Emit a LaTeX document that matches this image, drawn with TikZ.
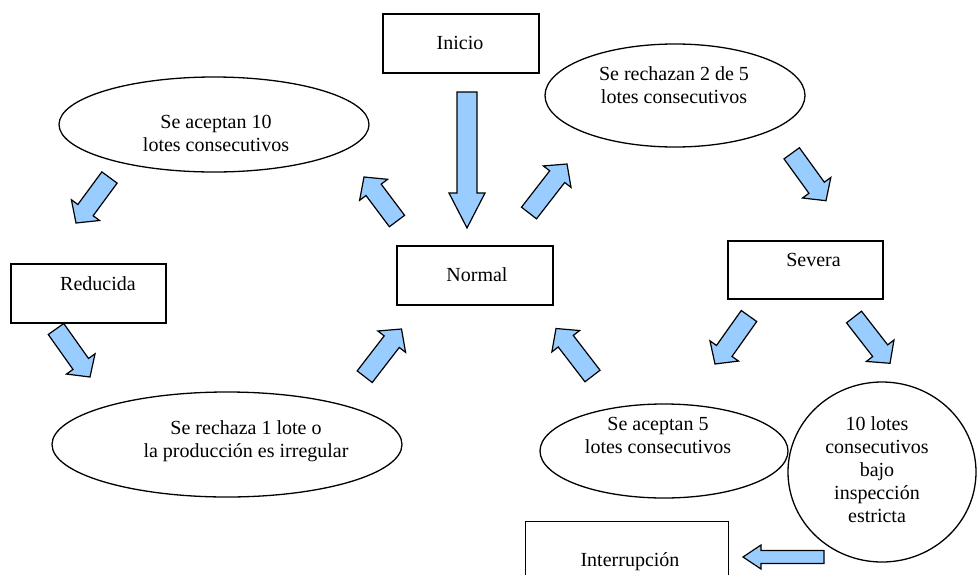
\documentclass[tikz,border=0pt]{standalone}
\usepackage{fontspec}
\setmainfont{Liberation Serif}
\usetikzlibrary{calc,shapes.geometric}
\definecolor{arrowblue}{HTML}{99CCFF}
\tikzset{
  box/.style={draw, line width=1.3pt, rectangle, inner sep=0pt},
  oval/.style={draw, line width=1.3pt, ellipse, inner sep=0pt},
  lbl/.style={align=center, font=\fontsize{20}{23}\selectfont, inner sep=0pt},
  blk/.style={draw, line width=1.2pt, fill=arrowblue, line join=miter},
}
\newcommand{\blkarrow}[5]{%
  \coordinate (hb) at ($(#2)!#5!(#1)$);
  \draw[blk] ($(#1)!#3!90:(#2)$) -- ($(hb)!#3!90:(#2)$) -- ($(hb)!#4!90:(#2)$) -- (#2)
    -- ($(hb)!#4!-90:(#2)$) -- ($(hb)!#3!-90:(#2)$) -- ($(#1)!#3!-90:(#2)$) -- cycle;}
\begin{document}
\begin{tikzpicture}[x=1pt,y=-1pt]
\useasboundingbox (0,0) rectangle (978,574);
\clip (0,0) rectangle (978,574);
\fill[white] (0,0) rectangle (978,574);

% boxes
\node[box, minimum width=156pt, minimum height=59pt] (inicio) at (461,43.5) {};
\node[lbl] (inicio-t) at (460,43) {Inicio};
\node[box, minimum width=156pt, minimum height=59pt] (normal) at (475,275.5) {};
\node[lbl] (normal-t) at (477,275) {Normal};
\node[box, minimum width=155pt, minimum height=59pt] (reducida) at (88.5,293.5) {};
\node[lbl] (reducida-t) at (98,284) {Reducida};
\node[box, minimum width=155pt, minimum height=58pt] (severa) at (805.5,270) {};
\node[lbl] (severa-t) at (813.5,260) {Severa};
\node[box, minimum width=203pt, minimum height=100pt, anchor=north west] (interr) at (525,521) {};
\node[lbl] (interr-t) at (630,562) {Interrupción};

% ellipses
\node[oval, minimum width=310pt, minimum height=95pt] (acep10) at (214,124.5) {};
\node[lbl] (acep10-t) at (216,133.5) {Se aceptan 10\\lotes consecutivos};
\node[oval, minimum width=260pt, minimum height=103pt] (rech25) at (675,95.5) {};
\node[lbl] (rech25-t) at (674,85) {Se rechazan 2 de 5\\lotes consecutivos};
\node[oval, minimum width=350pt, minimum height=105pt] (rech1) at (227,444.5) {};
\node[lbl] (rech1-t) at (246,441.5) {Se rechaza 1 lote o\\la producción es irregular};
\node[oval, minimum width=248pt, minimum height=94pt] (acep5) at (664,451) {};
\node[lbl] (acep5-t) at (658,435.5) {Se aceptan 5\\lotes consecutivos};
\node[oval, minimum width=188pt, minimum height=180pt] (diez) at (882,472) {};
\node[lbl] (diez-t) at (877,470) {10 lotes\\consecutivos\\bajo\\inspección\\estricta};

% block arrows: tail / tip coordinates
\coordinate (a1s) at (467,92);      \coordinate (a1e) at (467,228);
\coordinate (a2s) at (397,221);     \coordinate (a2e) at (364,177);
\coordinate (a3s) at (529,213);     \coordinate (a3e) at (567,164);
\coordinate (a4s) at (109.5,177.5); \coordinate (a4e) at (76,223);
\coordinate (a5s) at (56,329);      \coordinate (a5e) at (90,377);
\coordinate (a6s) at (364.7,376.7); \coordinate (a6e) at (401.5,329);
\coordinate (a7s) at (592.5,376);   \coordinate (a7e) at (556,328.5);
\coordinate (a8s) at (791.7,153.3); \coordinate (a8e) at (826,200.7);
\coordinate (a9s) at (749,316);     \coordinate (a9e) at (715,364);
\coordinate (a10s) at (854,317);    \coordinate (a10e) at (890,363.3);
\coordinate (a11s) at (824,557);    \coordinate (a11e) at (743,557);

\blkarrow{a1s}{a1e}{10pt}{18pt}{35pt}
\blkarrow{a2s}{a2e}{9.5pt}{17.5pt}{16pt}
\blkarrow{a3s}{a3e}{9.5pt}{17.5pt}{16pt}
\blkarrow{a4s}{a4e}{9.5pt}{17.5pt}{16pt}
\blkarrow{a5s}{a5e}{9.5pt}{17.5pt}{16pt}
\blkarrow{a6s}{a6e}{9.5pt}{17.5pt}{16pt}
\blkarrow{a7s}{a7e}{9.5pt}{17.5pt}{16pt}
\blkarrow{a8s}{a8e}{9.5pt}{17.5pt}{16pt}
\blkarrow{a9s}{a9e}{9.5pt}{17.5pt}{16pt}
\blkarrow{a10s}{a10e}{9.5pt}{17.5pt}{16pt}
\blkarrow{a11s}{a11e}{6.5pt}{12pt}{18pt}
\end{tikzpicture}
\end{document}
